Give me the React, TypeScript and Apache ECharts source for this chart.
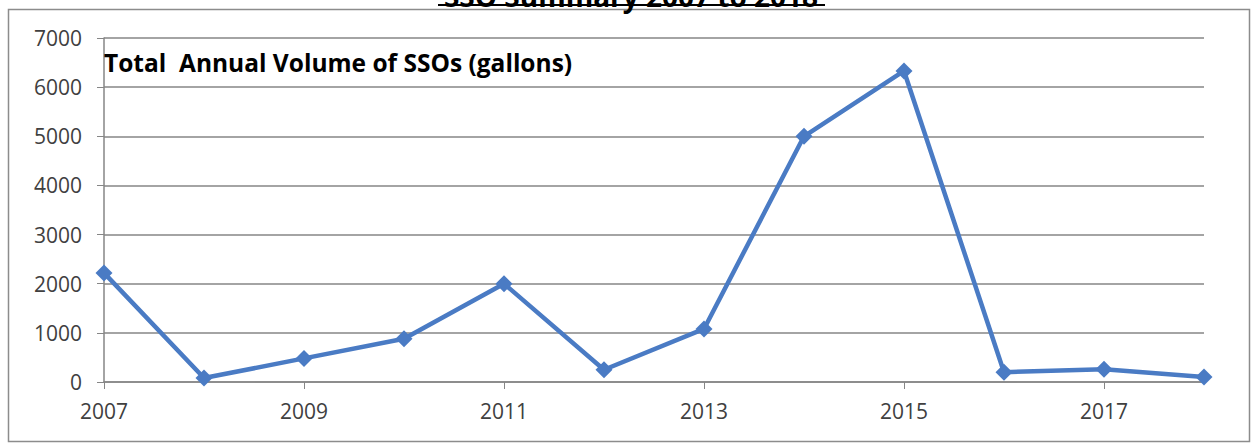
import React, { useEffect, useRef } from "react";
import * as echarts from "echarts";

const years = ["2007", "2008", "2009", "2010", "2011", "2012", "2013", "2014", "2015", "2016", "2017", "2018"];
const volumes = [2220, 80, 480, 880, 2000, 250, 1080, 5000, 6330, 200, 260, 100];
const yTicks = { min: 0, max: 7000, interval: 1000 };
const chartTitle = "SSO Summary 2007 to 2018";
const seriesLabel = "Total  Annual Volume of SSOs (gallons)";

export default function App() {
  const ref = useRef<HTMLDivElement>(null);
  useEffect(() => {
    if (!ref.current) return;
    const chart = echarts.init(ref.current, null, { renderer: "svg" });
    const axisText = { color: "#404040", fontSize: 21, fontFamily: "Open Sans, sans-serif" };
    chart.setOption({
      animation: false,
      backgroundColor: "#ffffff",
      grid: { left: 104, right: 49, top: 38, bottom: 63, containLabel: false },
      graphic: [
        {
          type: "rect",
          shape: { x: 8.5, y: 9.5, width: 1241, height: 432 },
          style: { fill: "none", stroke: "#8c8c8c", lineWidth: 1.5 },
          silent: true,
        },
        {
          type: "text",
          x: 631,
          y: 10,
          style: {
            text: chartTitle,
            fill: "#000",
            font: "bold 28px 'Open Sans', sans-serif",
            textAlign: "center",
            textVerticalAlign: "bottom",
          },
        },
        {
          type: "rect",
          shape: { x: 438, y: 4, width: 387, height: 2 },
          style: { fill: "#000" },
        },
        {
          type: "text",
          x: 104,
          y: 62,
          style: {
            text: seriesLabel,
            fill: "#000",
            font: "bold 24.5px 'Open Sans', sans-serif",
            textAlign: "left",
            textVerticalAlign: "middle",
          },
          z: 10,
        },
      ],
      xAxis: {
        type: "category",
        data: years,
        boundaryGap: false,
        axisLine: { lineStyle: { color: "#868686", width: 1.5 } },
        axisTick: { show: true, interval: 1, length: 7, lineStyle: { color: "#868686" } },
        axisLabel: { ...axisText, interval: 1, margin: 18 },
        splitLine: { show: false },
      },
      yAxis: {
        type: "value",
        min: yTicks.min,
        max: yTicks.max,
        interval: yTicks.interval,
        axisLine: { show: true, lineStyle: { color: "#868686", width: 1.5 } },
        axisTick: { show: true, length: 7, lineStyle: { color: "#868686" } },
        axisLabel: { ...axisText, margin: 22, formatter: (v: number) => String(v) },
        splitLine: { show: true, lineStyle: { color: "#868686", width: 1.5 } },
      },
      series: [
        {
          type: "line",
          data: volumes,
          symbol: "diamond",
          symbolSize: 17,
          lineStyle: { color: "#4a7bc4", width: 4.5 },
          itemStyle: { color: "#4a7bc4" },
          z: 5,
        },
      ],
    });
    return () => chart.dispose();
  }, []);
  return (
    <div
      ref={ref}
      style={{ position: "absolute", left: 0, top: 0, width: 1253, height: 445 }}
    />
  );
}
